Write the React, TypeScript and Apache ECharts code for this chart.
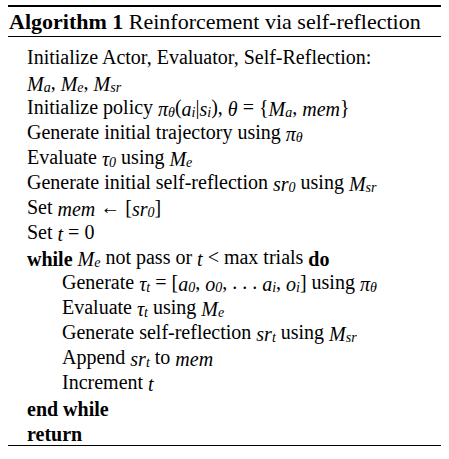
import React, { useEffect, useRef } from "react";
import * as echarts from "echarts";

const title = "{tb|Algorithm 1}{tn| Reinforcement via self-reflection}";
const lines: string[] = [
  "Initialize Actor, Evaluator, Self-Reflection:",
  "{i|M}{s|a}, {i|M}{s|e}, {i|M}{s|sr}",
  "Initialize policy {i|π}{s|θ}({i|a}{s|i}|{i|s}{s|i}), {i|θ} = {{i|M}{s|a}, {i|mem}}",
  "Generate initial trajectory using {i|π}{s|θ}",
  "Evaluate {i|τ}{s|0} using {i|M}{s|e}",
  "Generate initial self-reflection {i|sr}{s|0} using {i|M}{s|sr}",
  "Set {i|mem} ← [{i|sr}{s|0}]",
  "Set {i|t} = 0",
  "{b|while} {i|M}{s|e} not pass or {i|t} < max trials {b|do}",
  "Generate {i|τ}{s|t} = [{i|a}{s|0}, {i|o}{s|0}, . . . {i|a}{s|i}, {i|o}{s|i}] using {i|π}{s|θ}",
  "Evaluate {i|τ}{s|t} using {i|M}{s|e}",
  "Generate self-reflection {i|sr}{s|t} using {i|M}{s|sr}",
  "Append {i|sr}{s|t} to {i|mem}",
  "Increment {i|t}",
  "{b|end while}",
  "{b|return}",
];
const indents: number[] = [0, 0, 0, 0, 0, 0, 0, 0, 0, 1, 1, 1, 1, 1, 0, 0];

const FONT = "'Liberation Serif', 'DejaVu Serif', serif";

export default function App() {
  const ref = useRef<HTMLDivElement>(null);
  useEffect(() => {
    const chart = echarts.init(ref.current!, null, { renderer: "svg" });
    const rich = {
      n: { fontFamily: FONT, fontSize: 20, lineHeight: 24, verticalAlign: "bottom" as const },
      i: { fontFamily: FONT, fontSize: 20, fontStyle: "italic" as const, lineHeight: 24, verticalAlign: "bottom" as const },
      b: { fontFamily: FONT, fontSize: 20, fontWeight: "bold" as const, lineHeight: 24, verticalAlign: "bottom" as const },
      s: { fontFamily: FONT, fontSize: 14, fontStyle: "italic" as const, lineHeight: 20, verticalAlign: "bottom" as const },
      tb: { fontFamily: FONT, fontSize: 22, fontWeight: "bold" as const, lineHeight: 26 },
      tn: { fontFamily: FONT, fontSize: 22, lineHeight: 26 },
    };
    const wrap = (t: string) =>
      t.replace(/(^|\})([^{}]*?)(?=\{[a-z]\||$)/g, (m, p, txt) => (txt ? `${p}{n|${txt}}` : m));
    void wrap;
    const elements: any[] = [
      { type: "line", shape: { x1: 8, y1: 6, x2: 441, y2: 6 }, style: { stroke: "#000", lineWidth: 2 } },
      { type: "line", shape: { x1: 8, y1: 36.5, x2: 441, y2: 36.5 }, style: { stroke: "#000", lineWidth: 1 } },
      { type: "line", shape: { x1: 8, y1: 445.5, x2: 441, y2: 445.5 }, style: { stroke: "#000", lineWidth: 1 } },
      {
        type: "text", x: 9, y: 21,
        style: { text: title, rich, fill: "#000", verticalAlign: "middle", font: `22px ${FONT}` },
      },
    ];
    lines.forEach((t, k) => {
      elements.push({
        type: "text",
        x: indents[k] ? 62 : 27,
        y: 57 + k * 25,
        style: { text: t, rich, fill: "#000", verticalAlign: "middle", font: `20px ${FONT}` },
      });
    });
    chart.setOption({ animation: false, backgroundColor: "#fff", graphic: { elements } });
    return () => chart.dispose();
  }, []);
  return <div ref={ref} style={{ position: "fixed", left: 0, top: 0, width: 449, height: 459 }} />;
}
